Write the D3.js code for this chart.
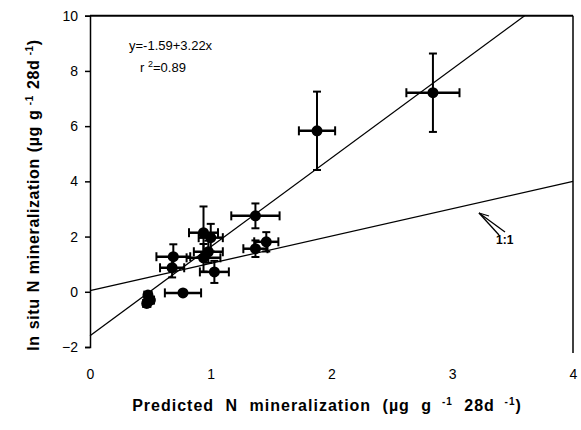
<!DOCTYPE html>
<html>
<head>
<meta charset="utf-8">
<script src="https://cdn.jsdelivr.net/npm/d3@7"></script>
<style>
body { margin: 0; background: #fff; }
text { font-family: "Liberation Sans", Arial, sans-serif; }
</style>
</head>
<body>
<script>
let width = 581;
let height = 430;

// data
let predicted = [1.88, 2.84, 1.37, 0.94, 1.00, 0.69, 0.68, 0.94, 0.98, 1.03, 1.37, 1.46, 0.77, 0.48, 0.50, 0.47];
let inSitu    = [5.83, 7.21, 2.75, 2.14, 1.96, 1.27, 0.87, 1.23, 1.45, 0.72, 1.56, 1.81, -0.04, -0.12, -0.30, -0.42];
let xErr      = [0.15, 0.22, 0.20, 0.12, 0.10, 0.14, 0.10, 0.14, 0.12, 0.12, 0.10, 0.10, 0.15, 0.03, 0.03, 0.03];
let yErr      = [1.42, 1.42, 0.45, 0.95, 0.50, 0.45, 0.35, 0.50, 0.40, 0.40, 0.30, 0.35, 0.08, 0.10, 0.10, 0.10];
let xTicks = [0, 1, 2, 3, 4];
let yTicks = [-2, 0, 2, 4, 6, 8, 10];
let intercept = -1.59;
let slope = 3.22;

let svg = d3.select("body")
            .append("svg")
            .attr("width", width)
            .attr("height", height);

let x = d3.scaleLinear().domain([0, 4]).range([90, 573]);
let y = d3.scaleLinear().domain([-2, 10]).range([347, 15.7]);

// frame: top and right borders
svg.append("line")
    .attr("x1", x(0)).attr("x2", x(4))
    .attr("y1", y(10)).attr("y2", y(10))
    .style("stroke", "#000").style("stroke-width", 2);
svg.append("line")
    .attr("x1", x(4)).attr("x2", x(4))
    .attr("y1", y(10)).attr("y2", y(-2) + 6)
    .style("stroke", "#000").style("stroke-width", 1.5);

// left axis
let yAxis = svg.append("g")
    .attr("transform", `translate(${x(0)},0)`)
    .call(d3.axisLeft(y).tickValues(yTicks).tickSize(5).tickPadding(7).tickFormat(d3.format("d")));
yAxis.select(".domain").style("stroke-width", 1.5);
yAxis.selectAll("line").style("stroke-width", 1.5);
yAxis.selectAll("text")
    .style("font-family", "Liberation Sans, Arial, sans-serif")
    .style("font-size", "14px")
    .style("fill", "#000");

// bottom tick labels only, no axis line
let xAxis = svg.append("g")
    .attr("transform", `translate(0,${y(-2)})`)
    .call(d3.axisBottom(x).tickValues(xTicks).tickSize(0).tickPadding(22).tickFormat(d3.format("d")));
xAxis.select(".domain").remove();
xAxis.selectAll("text")
    .style("font-family", "Liberation Sans, Arial, sans-serif")
    .style("font-size", "14px")
    .style("fill", "#000");

// 1:1 line and regression line
let line = d3.line().x(d => x(d[0])).y(d => y(d[1]));
svg.append("path")
    .attr("d", line([[0, 0.04], [4, 4]]))
    .style("fill", "none").style("stroke", "#000").style("stroke-width", 1.3);
let xTop = (10 - intercept) / slope;
svg.append("path")
    .attr("d", line([[0, intercept], [xTop, 10]]))
    .style("fill", "none").style("stroke", "#000").style("stroke-width", 1.3);

// error bars and points
let pts = predicted.map((p, i) => ({x: p, y: inSitu[i], ex: xErr[i], ey: yErr[i]}));
let g = svg.append("g");
pts.forEach(d => {
    // vertical
    g.append("line")
        .attr("x1", x(d.x)).attr("x2", x(d.x))
        .attr("y1", y(d.y - d.ey)).attr("y2", y(d.y + d.ey))
        .style("stroke", "#000").style("stroke-width", 2);
    [d.y - d.ey, d.y + d.ey].forEach(v => {
        g.append("line")
            .attr("x1", x(d.x) - 4).attr("x2", x(d.x) + 4)
            .attr("y1", y(v)).attr("y2", y(v))
            .style("stroke", "#000").style("stroke-width", 2);
    });
    // horizontal
    g.append("line")
        .attr("x1", x(d.x - d.ex)).attr("x2", x(d.x + d.ex))
        .attr("y1", y(d.y)).attr("y2", y(d.y))
        .style("stroke", "#000").style("stroke-width", 2.5);
    [d.x - d.ex, d.x + d.ex].forEach(v => {
        g.append("line")
            .attr("x1", x(v)).attr("x2", x(v))
            .attr("y1", y(d.y) - 4.5).attr("y2", y(d.y) + 4.5)
            .style("stroke", "#000").style("stroke-width", 2);
    });
    g.append("circle")
        .attr("cx", x(d.x)).attr("cy", y(d.y))
        .attr("r", 5.5)
        .style("fill", "#000");
});

// equation
svg.append("text")
    .attr("x", 129).attr("y", 50)
    .style("font-size", "13px")
    .text("y=-1.59+3.22x");
let r2 = svg.append("text")
    .attr("x", 140).attr("y", 72)
    .style("font-size", "13px");
r2.append("tspan").text("r ");
r2.append("tspan").attr("dy", -5).style("font-size", "9px").text("2");
r2.append("tspan").attr("dy", 5).text("=0.89");

// 1:1 label with arrow
svg.append("text")
    .attr("x", 496).attr("y", 244)
    .style("font-size", "12px").style("font-weight", "bold")
    .text("1:1");
let ax = svg.append("g").style("stroke", "#000").style("stroke-width", 1.3).style("fill", "none");
ax.append("line").attr("x1", 505).attr("y1", 232).attr("x2", 479).attr("y2", 213);
ax.append("line").attr("x1", 499).attr("y1", 235).attr("x2", 479).attr("y2", 213);
ax.append("line").attr("x1", 479).attr("y1", 213).attr("x2", 489).attr("y2", 216);

// axis titles
let xt = svg.append("text")
    .attr("x", 327).attr("y", 411)
    .attr("text-anchor", "middle")
    .style("font-size", "16px").style("font-weight", "bold")
    .style("letter-spacing", "1px").style("word-spacing", "6px");
xt.append("tspan").text("Predicted N mineralization (\u00b5g g");
xt.append("tspan").attr("dy", -6).style("font-size", "10px").text(" -1");
xt.append("tspan").attr("dy", 6).text(" 28d");
xt.append("tspan").attr("dy", -6).style("font-size", "10px").text(" -1");
xt.append("tspan").attr("dy", 6).text(")");

let yt = svg.append("text")
    .attr("transform", "translate(39,195) rotate(-90)")
    .attr("text-anchor", "middle")
    .style("font-size", "16px").style("font-weight", "bold")
    .style("letter-spacing", "0.6px").style("word-spacing", "1px");
yt.append("tspan").text("In situ N mineralization (\u00b5g g");
yt.append("tspan").attr("dy", -6).style("font-size", "10px").text(" -1");
yt.append("tspan").attr("dy", 6).text(" 28d");
yt.append("tspan").attr("dy", -6).style("font-size", "10px").text(" -1");
yt.append("tspan").attr("dy", 6).text(")");
</script>
</body>
</html>
